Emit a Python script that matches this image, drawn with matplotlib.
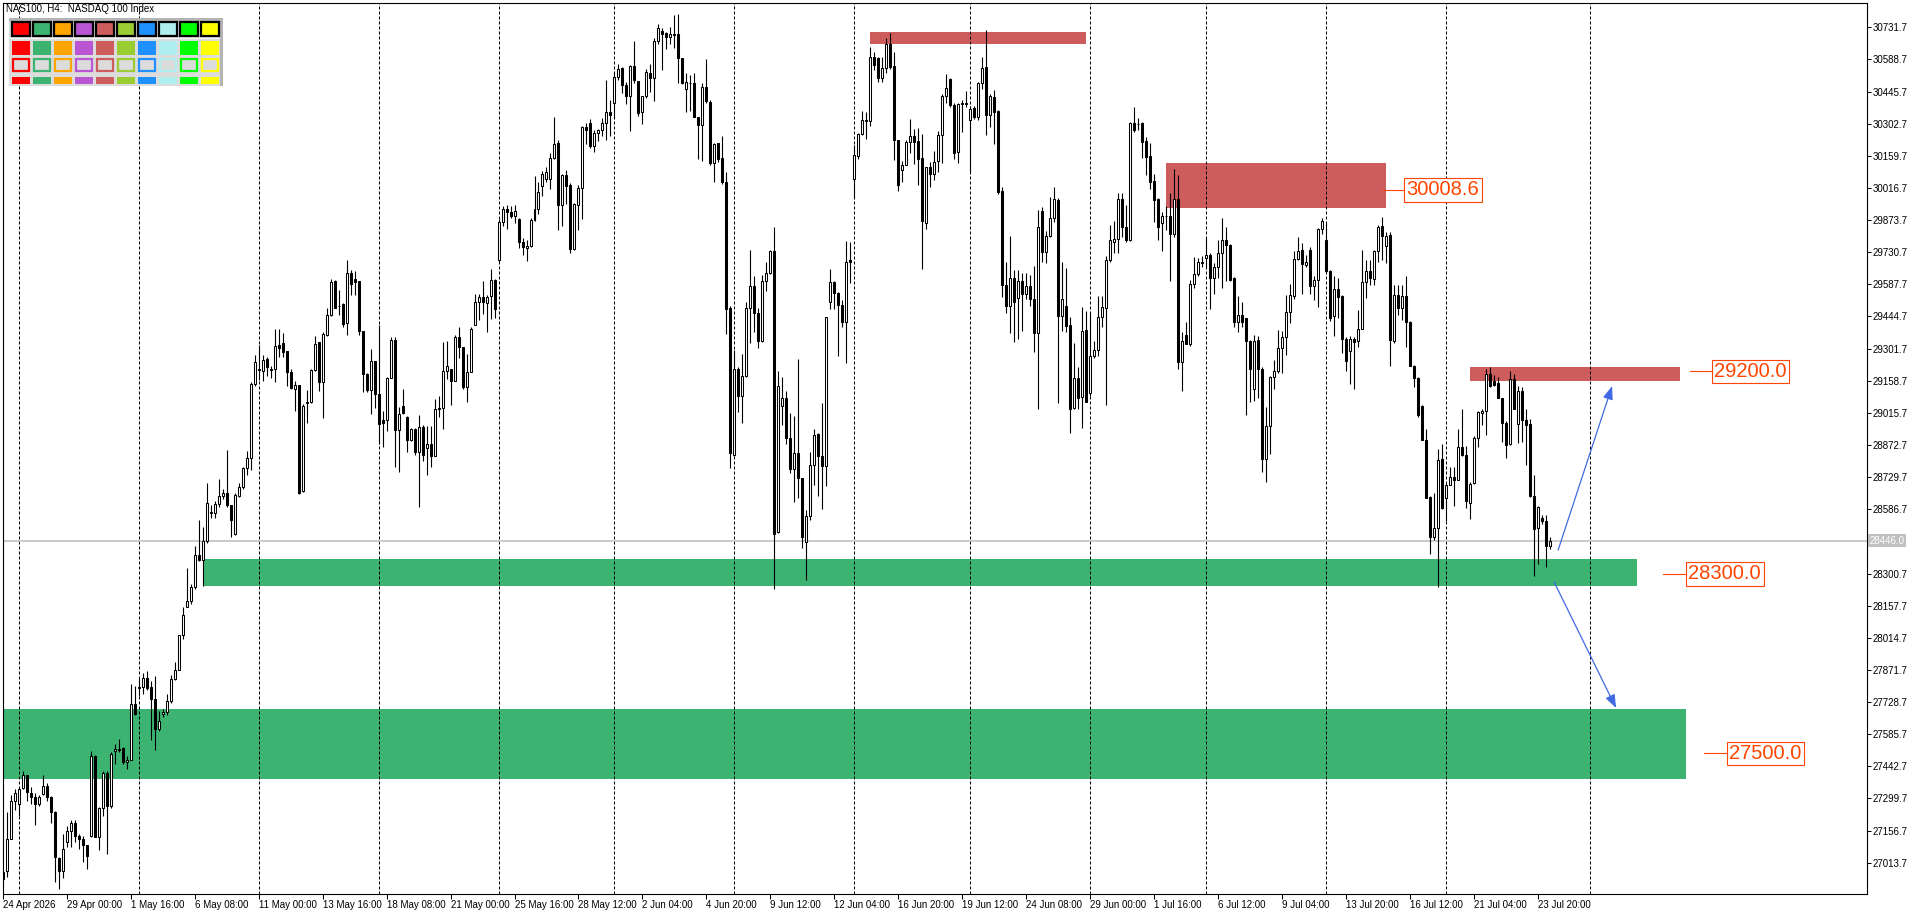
import numpy as np
import matplotlib.pyplot as plt
from matplotlib.patches import Rectangle

plt.rcParams['font.family'] = ['Liberation Sans', 'DejaVu Sans']

# NAS100 H4 candles (bar 0 = 24 Apr 2026)
opens = [
    26972, 26975, 27118, 27290, 27277, 27345, 27402, 27323, 27305, 27277,
    27320, 27356, 27305, 27241, 27036, 26975, 27104, 27155, 27191, 27131,
    27118, 27091, 27131, 27488, 27127, 27255, 27415, 27265, 27512, 27519,
    27525, 27460, 27470, 27722, 27790, 27796, 27836, 27796, 27744, 27607,
    27677, 27686, 27732, 27832, 27873, 28028, 28153, 28180, 28239, 28385,
    28363, 28446, 28569, 28569, 28611, 28647, 28660, 28605, 28477, 28647,
    28684, 28770, 28816, 29142, 29210, 29200, 29255, 29210, 29210, 29316,
    29325, 29292, 29197, 29123, 29140, 28666, 29059, 29063, 29206, 29329,
    29155, 29362, 29453, 29603, 29490, 29499, 29415, 29640, 29612, 29603,
    29380, 29188, 29118, 29246, 29100, 28986, 28986, 29173, 29338, 28939,
    29045, 28999, 28895, 28944, 28843, 28954, 28860, 28877, 28822, 29039,
    29039, 29200, 29212, 29158, 29354, 29311, 29129, 29197, 29408, 29507,
    29533, 29504, 29538, 29609, 29698, 29865, 29925, 29911, 29891, 29877,
    29775, 29751, 29759, 29874, 29925, 30027, 30058, 30058, 30150, 30218,
    29942, 30075, 30030, 29746, 29942, 30015, 30286, 30305, 30202, 30260,
    30274, 30308, 30356, 30397, 30512, 30550, 30475, 30427, 30558, 30492,
    30354, 30424, 30530, 30507, 30669, 30717, 30705, 30688, 30700, 30700,
    30593, 30458, 30483, 30486, 30334, 30296, 30465, 30398, 30129, 30219,
    30150, 30044, 29482, 28826, 29212, 29090, 29178, 29482, 29579, 29460,
    29337, 29604, 29640, 29734, 28485, 29047, 29081, 28902, 28766, 28839,
    28724, 28439, 28558, 28783, 28923, 28822, 28778, 29507, 29596, 29550,
    29494, 29422, 29695, 30056, 30158, 30257, 30317, 30313, 30598, 30594,
    30507, 30550, 30657, 30558, 30228, 30095, 30121, 30223, 30248, 30226,
    30150, 29860, 30109, 30081, 30138, 30252, 30427, 30501, 30385, 30175,
    30390, 30397, 30317, 30373, 30334, 30482, 30555, 30342, 30422, 30359,
    30001, 29587, 29490, 29618, 29529, 29604, 29545, 29579, 29521, 29371,
    29916, 29732, 29805, 29882, 29962, 29448, 29490, 29405, 29039, 29170,
    29085, 29383, 29102, 29269, 29294, 29442, 29482, 29695, 29775, 29788,
    29967, 29845, 29785, 30308, 30300, 30308, 30226, 30158, 30047, 29967,
    29862, 29891, 29894, 29814, 29967, 29243, 29362, 29320, 29589, 29632,
    29686, 29703, 29717, 29618, 29664, 29725, 29783, 29763, 29614, 29422,
    29453, 29436, 29337, 29124, 29340, 29212, 28809, 28957, 29175, 29200,
    29306, 29354, 29465, 29538, 29700, 29742, 29672, 29740, 29579, 29606,
    29834, 29785, 29649, 29448, 29567, 29538, 29345, 29289, 29345, 29337,
    29391, 29596, 29649, 29613, 29737, 29848, 29759, 29809, 29337, 29541,
    29482, 29538, 29419, 29226, 29172, 29047, 28894, 28642, 28465, 28502,
    28809, 28638, 28693, 28732, 28718, 28863, 28826, 28616, 28703, 28902,
    29013, 29022, 29187, 29158, 29149, 29081, 28971, 28877, 29166, 28966,
    29115, 28983, 28966, 28647, 28502, 28550, 28533, 28425,
]
highs = [
    26972, 27241, 27314, 27342, 27351, 27424, 27406, 27351, 27323, 27314,
    27402, 27369, 27309, 27246, 27039, 27140, 27177, 27204, 27204, 27140,
    27131, 27094, 27512, 27492, 27260, 27424, 27424, 27506, 27543, 27565,
    27530, 27488, 27808, 27799, 27836, 27858, 27869, 27821, 27845, 27689,
    27699, 27763, 27849, 27909, 28028, 28151, 28327, 28254, 28422, 28537,
    28508, 28702, 28605, 28623, 28721, 28678, 28849, 28605, 28660, 28702,
    28774, 28847, 29151, 29274, 29319, 29274, 29264, 29224, 29387, 29387,
    29371, 29292, 29210, 29158, 29140, 29054, 29118, 29213, 29360, 29329,
    29374, 29484, 29612, 29607, 29561, 29506, 29695, 29653, 29649, 29603,
    29380, 29191, 29301, 29246, 29406, 29026, 29177, 29352, 29352, 29041,
    29122, 29004, 28950, 28950, 29008, 28962, 28959, 28959, 29076, 29090,
    29332, 29337, 29212, 29362, 29400, 29311, 29277, 29397, 29545, 29545,
    29604, 29541, 29655, 29613, 29879, 29938, 29942, 29938, 29942, 29882,
    29792, 29785, 29882, 30070, 30044, 30092, 30112, 30172, 30334, 30228,
    30078, 30098, 30039, 29950, 30030, 30294, 30305, 30322, 30274, 30279,
    30328, 30499, 30407, 30530, 30567, 30555, 30487, 30564, 30669, 30492,
    30424, 30547, 30567, 30686, 30746, 30729, 30712, 30734, 30785, 30789,
    30593, 30530, 30521, 30530, 30334, 30482, 30589, 30410, 30219, 30219,
    30248, 30087, 29490, 29294, 29218, 29277, 29507, 29741, 29627, 29482,
    29630, 29689, 29741, 29845, 29200, 29175, 29115, 29017, 29001, 29255,
    28727, 28582, 28843, 28945, 28928, 29061, 29444, 29655, 29604, 29553,
    29519, 29780, 29775, 30206, 30260, 30359, 30356, 30644, 30623, 30598,
    30598, 30683, 30708, 30620, 30231, 30138, 30231, 30322, 30279, 30282,
    30257, 30112, 30133, 30180, 30269, 30436, 30524, 30507, 30393, 30397,
    30410, 30448, 30381, 30380, 30487, 30601, 30720, 30436, 30453, 30363,
    30023, 29686, 29802, 29652, 29652, 29640, 29640, 29630, 29669, 29920,
    29930, 29826, 29976, 30023, 29972, 29686, 29661, 29442, 29328, 29218,
    29485, 29470, 29459, 29337, 29536, 29536, 29715, 29851, 29868, 29993,
    29993, 29942, 30311, 30376, 30330, 30311, 30243, 30218, 30081, 29972,
    29908, 29938, 29993, 30100, 30075, 29376, 29422, 29609, 29708, 29706,
    29715, 29800, 29729, 29681, 29785, 29885, 29845, 29766, 29621, 29538,
    29511, 29436, 29340, 29362, 29357, 29218, 29042, 29178, 29252, 29383,
    29379, 29541, 29589, 29737, 29800, 29771, 29717, 29754, 29627, 29839,
    29882, 29860, 29652, 29627, 29615, 29541, 29354, 29359, 29354, 29473,
    29742, 29698, 29695, 29742, 29851, 29887, 29822, 29822, 29584, 29584,
    29584, 29627, 29425, 29229, 29175, 29052, 28942, 28647, 28659, 28855,
    28877, 28703, 28775, 28775, 28945, 29034, 28868, 28706, 28911, 29022,
    29034, 29209, 29218, 29183, 29175, 29081, 28979, 29200, 29187, 29136,
    29132, 29034, 28988, 28740, 28601, 28562, 28562, 28465,
]
lows = [
    26939, 26948, 27118, 27250, 27223, 27342, 27287, 27277, 27182, 27265,
    27314, 27287, 27191, 26926, 26898, 26944, 27085, 27082, 27104, 27076,
    27017, 26984, 27127, 27127, 27072, 27222, 27054, 27259, 27451, 27506,
    27451, 27429, 27470, 27671, 27754, 27763, 27781, 27561, 27516, 27598,
    27662, 27671, 27726, 27827, 27873, 28010, 28151, 28166, 28230, 28358,
    28244, 28437, 28547, 28547, 28596, 28633, 28596, 28464, 28473, 28642,
    28678, 28737, 28761, 29136, 29164, 29158, 29182, 29169, 29155, 29264,
    29264, 29136, 29123, 29026, 28656, 28664, 28971, 29059, 29200, 29114,
    28995, 29356, 29448, 29484, 29451, 29398, 29362, 29539, 29539, 29362,
    29109, 29109, 29012, 29036, 28876, 28862, 28935, 29169, 28776, 28752,
    29012, 28840, 28889, 28829, 28596, 28800, 28737, 28775, 28822, 28996,
    28945, 29166, 29052, 29158, 29260, 29124, 29064, 29197, 29408, 29431,
    29456, 29376, 29434, 29439, 29686, 29848, 29836, 29885, 29862, 29749,
    29720, 29691, 29754, 29868, 29899, 29981, 30044, 30010, 30146, 29831,
    29848, 29947, 29725, 29742, 29828, 29879, 30214, 30194, 30175, 30226,
    30248, 30231, 30248, 30328, 30495, 30439, 30390, 30269, 30484, 30337,
    30300, 30419, 30444, 30402, 30657, 30543, 30637, 30657, 30640, 30482,
    30478, 30354, 30359, 30334, 30146, 30138, 30397, 30121, 30041, 30133,
    30035, 29366, 28771, 28822, 29018, 28971, 29175, 29328, 29374, 29306,
    29333, 29558, 29635, 28233, 28481, 28962, 28877, 28749, 28618, 28638,
    28413, 28272, 28541, 28693, 28647, 28587, 28689, 29477, 29477, 29269,
    29397, 29238, 29592, 29976, 30146, 30254, 30236, 30294, 30543, 30487,
    30487, 30530, 30547, 30143, 30005, 30044, 30117, 30172, 30124, 30030,
    29655, 29834, 30022, 30052, 30087, 30129, 30393, 30376, 30146, 30129,
    30265, 30376, 30087, 30325, 30320, 30458, 30254, 30286, 30214, 29988,
    29533, 29461, 29371, 29333, 29345, 29379, 29524, 29490, 29286, 29034,
    29686, 29681, 29800, 29865, 29061, 29379, 29374, 28928, 29034, 29035,
    28950, 29064, 29093, 29260, 29269, 29400, 29052, 29689, 29725, 29729,
    29797, 29776, 29780, 30265, 30274, 30150, 30075, 30010, 29865, 29785,
    29734, 29831, 29604, 29797, 29212, 29112, 29320, 29315, 29572, 29626,
    29666, 29661, 29477, 29546, 29618, 29572, 29601, 29601, 29397, 29376,
    29397, 29008, 29064, 29068, 29081, 28754, 28710, 28831, 29124, 29195,
    29192, 29272, 29417, 29524, 29695, 29546, 29664, 29546, 29516, 29485,
    29814, 29640, 29425, 29359, 29439, 29282, 29204, 29144, 29124, 29311,
    29388, 29528, 29584, 29584, 29686, 29695, 29681, 29226, 29328, 29451,
    29427, 29311, 29226, 29132, 28996, 28894, 28635, 28386, 28451, 28241,
    28590, 28536, 28693, 28601, 28718, 28822, 28592, 28545, 28701, 28863,
    28962, 28919, 29132, 29136, 29081, 28885, 28817, 28872, 29034, 28880,
    28885, 28783, 28643, 28289, 28345, 28522, 28328, 28412,
]
closes = [
    26939, 27118, 27290, 27323, 27342, 27402, 27327, 27305, 27277, 27305,
    27356, 27305, 27241, 27039, 26975, 27076, 27155, 27191, 27131, 27118,
    27091, 27045, 27488, 27127, 27255, 27415, 27265, 27497, 27519, 27515,
    27460, 27470, 27722, 27677, 27796, 27836, 27790, 27744, 27607, 27644,
    27686, 27732, 27832, 27873, 28025, 28116, 28180, 28239, 28385, 28363,
    28446, 28614, 28574, 28611, 28647, 28660, 28605, 28541, 28651, 28684,
    28770, 28816, 29145, 29243, 29206, 29250, 29219, 29206, 29314, 29305,
    29288, 29197, 29127, 29140, 28660, 29048, 29063, 29206, 29323, 29151,
    29365, 29453, 29600, 29484, 29493, 29411, 29640, 29590, 29598, 29380,
    29188, 29118, 29246, 29100, 28968, 28971, 29173, 29338, 28939, 29012,
    29017, 28895, 28944, 28843, 28953, 28826, 28877, 28822, 29035, 29034,
    29200, 29226, 29158, 29354, 29311, 29132, 29197, 29391, 29507, 29533,
    29507, 29533, 29609, 29477, 29865, 29925, 29911, 29891, 29913, 29775,
    29754, 29758, 29874, 29925, 29998, 30081, 30087, 30150, 30214, 29942,
    30075, 30027, 29746, 29945, 30015, 30286, 30274, 30202, 30260, 30274,
    30308, 30356, 30342, 30512, 30547, 30473, 30427, 30558, 30495, 30351,
    30424, 30533, 30504, 30669, 30729, 30703, 30688, 30700, 30697, 30593,
    30482, 30487, 30486, 30334, 30296, 30465, 30402, 30126, 30214, 30146,
    30044, 29478, 28838, 29212, 29090, 29178, 29482, 29579, 29460, 29337,
    29604, 29640, 29734, 28476, 29137, 29081, 28902, 28766, 28839, 28724,
    28465, 28558, 28783, 28919, 28822, 28778, 29444, 29596, 29550, 29494,
    29422, 29689, 29686, 30163, 30257, 30317, 30313, 30598, 30564, 30507,
    30550, 30657, 30555, 30228, 30032, 30121, 30223, 30248, 30223, 30146,
    29870, 30109, 30081, 30134, 30252, 30427, 30461, 30385, 30172, 30390,
    30393, 30390, 30368, 30334, 30482, 30552, 30342, 30424, 30356, 29998,
    29584, 29490, 29618, 29507, 29604, 29546, 29579, 29521, 29371, 29845,
    29732, 29805, 29882, 29967, 29448, 29524, 29402, 29034, 29170, 29081,
    29379, 29064, 29269, 29294, 29442, 29485, 29695, 29785, 29788, 29967,
    29845, 29785, 30305, 30274, 30303, 30223, 30155, 30044, 29964, 29845,
    29891, 29894, 29814, 29967, 29243, 29337, 29320, 29589, 29635, 29686,
    29683, 29717, 29618, 29664, 29729, 29783, 29763, 29606, 29419, 29453,
    29422, 29337, 29212, 29337, 29212, 28809, 28957, 29175, 29200, 29306,
    29354, 29465, 29541, 29700, 29734, 29678, 29686, 29579, 29606, 29834,
    29868, 29649, 29439, 29567, 29533, 29345, 29248, 29345, 29332, 29391,
    29596, 29647, 29614, 29737, 29845, 29802, 29805, 29340, 29541, 29482,
    29538, 29419, 29226, 29172, 29005, 28894, 28638, 28465, 28502, 28804,
    28591, 28693, 28732, 28718, 28863, 28826, 28625, 28701, 28902, 29018,
    29022, 29187, 29137, 29141, 29081, 28971, 28872, 29166, 29034, 29112,
    28983, 28962, 28647, 28499, 28596, 28533, 28425, 28446,
]

date_labels = ['24 Apr 2026', '29 Apr 00:00', '1 May 16:00', '6 May 08:00', '11 May 00:00',
               '13 May 16:00', '18 May 08:00', '21 May 00:00', '25 May 16:00', '28 May 12:00',
               '2 Jun 04:00', '4 Jun 20:00', '9 Jun 12:00', '12 Jun 04:00', '16 Jun 20:00',
               '19 Jun 12:00', '24 Jun 08:00', '29 Jun 00:00', '1 Jul 16:00', '6 Jul 12:00',
               '9 Jul 04:00', '13 Jul 20:00', '16 Jul 12:00', '21 Jul 04:00', '23 Jul 20:00']
date_label_bars = [0, 16, 32, 48, 64, 80, 96, 112, 128, 144, 160, 176, 192, 208, 224,
                   240, 256, 272, 288, 304, 320, 336, 352, 368, 384]
week_start_bars = [4, 34, 64, 94, 124, 153, 183, 213, 242, 272, 301, 331, 361, 397]
price_ticks = [30731.7, 30588.7, 30445.7, 30302.7, 30159.7, 30016.7, 29873.7, 29730.7,
               29587.7, 29444.7, 29301.7, 29158.7, 29015.7, 28872.7, 28729.7, 28586.7,
               28300.7, 28157.7, 28014.7, 27871.7, 27728.7, 27585.7, 27442.7, 27299.7,
               27156.7, 27013.7]
last_price = 28446.0

# supply (red) and demand (green) zones: bar from, bar to, price low, price high
red_from = [217, 291, 367]
red_to = [271, 346, 419.5]
red_low = [30659, 29928, 29158]
red_high = [30710, 30127, 29219]
green_from = [0.175, 50]
green_to = [421, 408.8]
green_low = [27387, 28244]
green_high = [27699, 28365]

level_text = ['30008.6', '29200.0', '28300.0', '27500.0']
level_price = [30008.6, 29200.0, 28300.0, 27500.0]
level_line_from = [345.1, 422, 415.25, 425.5]
level_box_left = [350.5, 427.5, 421, 431.25]

arrow_up = [(389, 28405), (402.5, 29135)]
arrow_down = [(388, 28263), (403.5, 27702)]

palette = ['#FF0000', '#3CB371', '#FFA500', '#BA55D3', '#CD5C5C',
           '#9ACD32', '#1E90FF', '#AFEEEE', '#00FF00', '#FFFF00']

W, H = 1920, 915
fig = plt.figure(figsize=(W / 100, H / 100), dpi=100)
ax = fig.add_axes([2.7 / W, 1 - 894 / H, (1867 - 2.7) / W, (894 - 2.7) / H])
ax.set_xlim(0.175, 466.25)
ax.set_ylim(26874.4, 30841.2)

for l, r, lo, hi in zip(red_from, red_to, red_low, red_high):
    ax.add_patch(Rectangle((l, lo), r - l, hi - lo, facecolor='#CD5C5C', edgecolor='none', zorder=1))
for l, r, lo, hi in zip(green_from, green_to, green_low, green_high):
    ax.add_patch(Rectangle((l, lo), r - l, hi - lo, facecolor='#3CB371', edgecolor='none', zorder=1))

for b in week_start_bars:
    ax.axvline(b, color='black', lw=0.72, ls=(0, (3, 2)), zorder=2)
ax.axhline(last_price, color='#C0C0C0', lw=1.2, zorder=2.5)

o = np.array(opens, dtype=float)
h = np.array(highs, dtype=float)
lo_ = np.array(lows, dtype=float)
c = np.array(closes, dtype=float)
x = np.arange(len(c))
up = c >= o
ax.vlines(x, lo_, h, color='black', lw=0.8, zorder=4)
ax.bar(x[up], (c - o)[up], bottom=o[up], width=0.5, color='white',
       edgecolor='black', lw=0.75, zorder=5)
ax.bar(x[~up], (o - c)[~up], bottom=c[~up], width=0.5, color='black',
       edgecolor='black', lw=0.75, zorder=5)

for txt, p, lf, bl in zip(level_text, level_price, level_line_from, level_box_left):
    ax.plot([lf, bl], [p, p], color='#FF4500', lw=0.8, zorder=6)
    ax.text(bl + 0.6, p, txt, fontsize=14.5, color='#FF4500', ha='left', va='center',
            bbox=dict(boxstyle='square,pad=0.12', fc='white', ec='#FF4500', lw=0.8), zorder=7)

for start, end in [arrow_up, arrow_down]:
    ax.annotate('', xy=end, xytext=start, zorder=6,
                arrowprops=dict(arrowstyle='-|>,head_length=0.8,head_width=0.3',
                                color='#4169E1', lw=0.9, mutation_scale=10,
                                shrinkA=0, shrinkB=0))

ax.yaxis.tick_right()
ax.set_yticks(price_ticks)
ax.set_yticklabels([f'{v:.1f}' for v in price_ticks])
ax.tick_params(axis='y', direction='out', length=3, width=0.72, pad=1, labelsize=7)
ax.set_xticks(date_label_bars)
ax.set_xticklabels(date_labels, ha='left')
ax.tick_params(axis='x', direction='out', length=3.6, width=0.72, pad=1, labelsize=7)
for s in ax.spines.values():
    s.set_linewidth(0.8)

ax.text(1.0012, last_price, f'{last_price:.1f}', transform=ax.get_yaxis_transform(),
        fontsize=7, color='white', ha='left', va='center', clip_on=False, zorder=10,
        bbox=dict(boxstyle='square,pad=0.15', fc='#C0C0C0', ec='none'))

# overlay in pixel units for the title and the colour palette widget
ov = fig.add_axes([0, 0, 1, 1])
ov.set_xlim(0, W)
ov.set_ylim(H, 0)
ov.axis('off')
ov.patch.set_alpha(0)
ov.text(6, 4, 'NAS100, H4:  NASDAQ 100 Index', fontsize=7, color='black', ha='left', va='top')

ov.add_patch(Rectangle((9.3, 18.3), 213.4, 67.7, facecolor='#DCDCDC', edgecolor='none'))
ov.add_patch(Rectangle((9.3, 18.3), 213.4, 2.4, facecolor='#B4B4B4', edgecolor='none'))
ov.add_patch(Rectangle((220.3, 18.3), 2.4, 67.7, facecolor='#B4B4B4', edgecolor='none'))
ov.add_patch(Rectangle((9.3, 38), 211, 1.2, facecolor='#F4F4F4', edgecolor='none'))
for j, col in enumerate(palette):
    x0 = 12 + 21 * j
    ov.add_patch(Rectangle((x0, 22), 18, 14, facecolor=col, edgecolor='black', lw=1.6))
    ov.add_patch(Rectangle((x0, 40.7), 18, 14.3, facecolor=col, edgecolor='none'))
    ov.add_patch(Rectangle((x0 + 1, 58.7), 16, 12.3, facecolor='#DCDCDC', edgecolor=col, lw=1.6))
    ov.add_patch(Rectangle((x0, 76.7), 18, 7.6, facecolor=col, edgecolor='none'))

fig.savefig('out.png', dpi=100)
